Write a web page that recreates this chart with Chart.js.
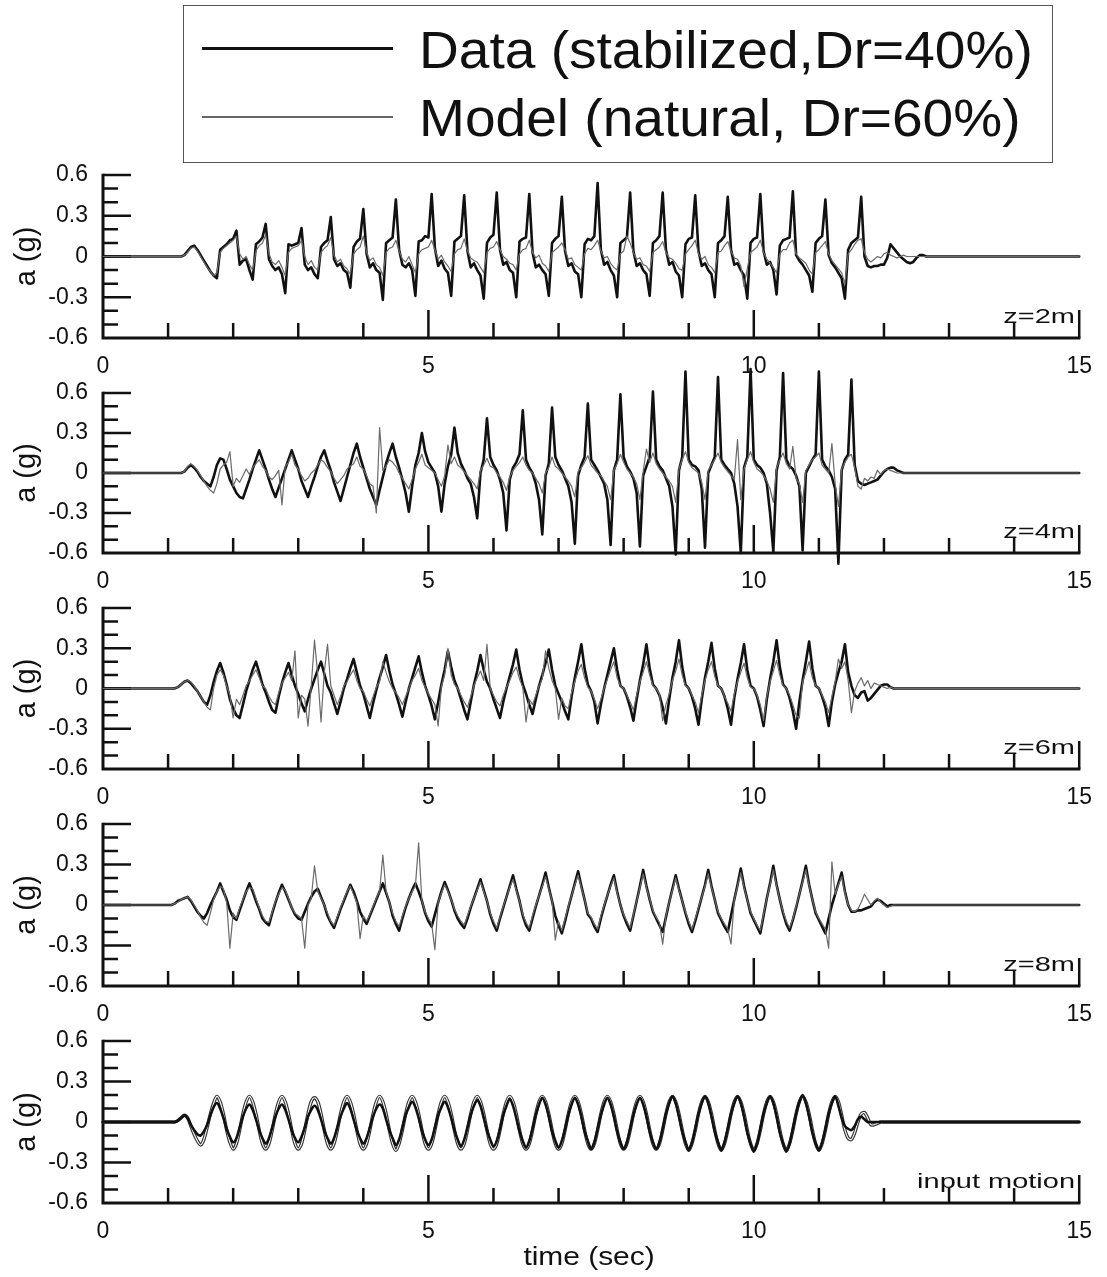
<!DOCTYPE html>
<html>
<head>
<meta charset="utf-8">
<title>Acceleration time histories</title>
<script src="https://cdn.jsdelivr.net/npm/chart.js@4.4.1/dist/chart.umd.min.js"></script>
<style>
  html, body { margin: 0; padding: 0; background: #fff; }
  #page { position: relative; width: 1107px; height: 1277px; overflow: hidden; background: #fff;
          font-family: "Liberation Sans", Arial, Helvetica, sans-serif; color: #111; }
  #page canvas { position: absolute; left: 0; }
  #legend { position: absolute; left: 183px; top: 5px; width: 870px; height: 158px;
            border: 1.5px solid #555; box-sizing: border-box; z-index: 2; }
  .lg-line { position: absolute; left: 17.5px; width: 191px; }
  .lg-text { position: absolute; left: 234.5px; font-size: 51px; line-height: 51px; white-space: nowrap;
             transform: scaleX(1.08); transform-origin: 0 50%; color: #111; }
</style>
</head>
<body>
<div id="page">
  <div id="legend">
    <div class="lg-line" style="top:41.3px;height:3px;background:#111;"></div>
    <div class="lg-text" id="lg-data" style="top:18.6px;"></div>
    <div class="lg-line" style="top:110px;height:1.5px;background:#666;"></div>
    <div class="lg-text" id="lg-model" style="top:87px;"></div>
  </div>
</div>
<script>
// ---- axis ticks and text ----
const xTickValues = [0, 5, 10, 15];
const xTickLabels = ['0', '5', '10', '15'];
const yTickValues = [-0.6, -0.3, 0, 0.3, 0.6];
const yTickLabels = ['-0.6', '-0.3', '0', '0.3', '0.6'];
const panelNames = ['z=2m', 'z=4m', 'z=6m', 'z=8m', 'input motion'];
const seriesNames = ['Data (stabilized,Dr=40%)', 'Model (natural, Dr=60%)'];
const yTitle = 'a (g)';
const xTitle = 'time (sec)';

// Records are sampled every 0.05 s from t = 1.0 s; before and after, the sensors are at rest.
const sampleStart = 1.0;
const sampleStep = 0.05;
const recordEnd = 15;

// ---- z = 2 m ----
const z2Data = [
  0,0,0,0,0,0.01,0.04,0.07,0.08,0.05,                 // 1.0 s
  0.01,-0.03,-0.07,-0.11,-0.14,-0.16,0.05,0.07,0.09,0.12,
  0.13,0.19,-0.06,-0.03,-0.02,-0.1,-0.17,0.09,0.11,0.14, // 2.0 s
  0.24,-0.02,-0.07,-0.1,-0.08,-0.13,-0.27,0.09,0.08,0.09,
  0.1,0.21,-0.06,-0.1,-0.08,-0.13,-0.16,0.07,0.1,0.12,   // 3.0 s
  0.29,-0.02,-0.07,-0.05,-0.1,-0.12,-0.23,0.07,0.11,0.13,
  0.35,0.02,-0.08,-0.05,-0.1,-0.12,-0.32,0.1,0.12,0.14,  // 4.0 s
  0.42,0.05,-0.06,-0.08,-0.05,-0.1,-0.29,0.11,0.12,0.15,
  0.14,0.46,0.06,-0.07,-0.03,-0.09,-0.12,-0.29,0.11,0.13, // 5.0 s
  0.15,0.45,0.04,-0.08,-0.05,-0.1,-0.14,-0.31,0.1,0.14,
  0.16,0.47,0.05,-0.06,-0.04,-0.1,-0.12,-0.3,0.11,0.13,  // 6.0 s
  0.14,0.46,0.03,-0.08,-0.06,-0.1,-0.13,-0.29,0.1,0.13,
  0.15,0.44,0.04,-0.07,-0.05,-0.11,-0.13,-0.3,0.09,0.13, // 7.0 s
  0.12,0.15,0.54,0.05,-0.06,-0.04,-0.1,-0.14,-0.3,0.1,
  0.12,0.14,0.47,0.04,-0.07,-0.05,-0.1,-0.13,-0.29,0.1,  // 8.0 s
  0.12,0.15,0.47,0.05,-0.06,-0.04,-0.11,-0.14,-0.3,0.09,
  0.13,0.14,0.45,0.04,-0.07,-0.05,-0.1,-0.13,-0.3,0.1,   // 9.0 s
  0.12,0.15,0.44,0.05,-0.06,-0.05,-0.1,-0.14,-0.31,0.1,
  0.13,0.14,0.46,0.04,-0.06,-0.04,-0.1,-0.28,0.08,0.12,  // 10.0 s
  0.13,0.14,0.48,0.01,-0.03,-0.06,-0.1,-0.14,-0.26,0.1,
  0.13,0.15,0.42,0.01,-0.05,-0.08,-0.12,-0.16,-0.31,0.05, // 11.0 s
  0.1,0.12,0.14,0.44,0,-0.07,-0.08,-0.07,-0.07,-0.06,
  -0.06,-0.01,0.09,0.06,0.03,0,-0.02,-0.04,-0.05,-0.04,  // 12.0 s
  -0.01,0.01,0.01,0,0,0,0,0,0,0
];
const z2Model = [
  0,0,0,0,0,0.01,0.03,0.06,0.07,0.04,                 // 1.0 s
  0,-0.04,-0.08,-0.11,-0.14,-0.12,0.03,0.06,0.08,0.1,
  0.12,0.15,0.02,-0.02,0,-0.06,-0.1,0.04,0.08,0.1,     // 2.0 s
  0.16,0.02,-0.04,-0.06,-0.03,-0.08,-0.14,0.03,0.06,0.07,
  0.08,0.12,0,-0.06,-0.03,-0.08,-0.1,0.03,0.06,0.08,   // 3.0 s
  0.14,0.01,-0.04,-0.02,-0.07,-0.09,-0.13,0.02,0.05,0.07,
  0.15,0.03,-0.03,-0.01,-0.06,-0.08,-0.14,0.03,0.06,0.07, // 4.0 s
  0.12,0.04,-0.02,-0.04,0,-0.06,-0.12,0.02,0.05,0.06,
  0.07,0.12,0.05,-0.02,0.01,-0.04,-0.07,-0.11,0.02,0.05, // 5.0 s
  0.06,0.13,0.04,-0.01,-0.03,-0.04,-0.08,-0.12,0.03,0.06,
  0.07,0.11,0.05,0,-0.02,-0.05,-0.06,-0.1,0.02,0.05,   // 6.0 s
  0.06,0.12,0.03,-0.01,0.01,-0.05,-0.07,-0.11,0.03,0.05,
  0.07,0.1,0.05,-0.02,-0.01,-0.06,-0.08,-0.1,0.02,0.06, // 7.0 s
  0.05,0.08,0.12,0.04,-0.01,0,-0.05,-0.08,-0.1,0.02,
  0.04,0.15,0.1,0.03,-0.02,-0.01,-0.06,-0.07,-0.11,0.03, // 8.0 s
  0.05,0.07,0.11,0.03,-0.01,-0.02,-0.05,-0.09,-0.1,0.02,
  0.05,0.08,0.12,0.02,-0.02,0,-0.06,-0.08,-0.12,0.03,  // 9.0 s
  0.04,0.08,0.11,0.04,-0.01,-0.02,-0.07,-0.22,-0.09,0.03,
  0.05,0.07,0.12,0.03,-0.02,-0.05,-0.08,-0.12,0.02,0.05, // 10.0 s
  0.05,0.1,0.12,0.02,-0.01,-0.03,-0.05,-0.1,-0.13,0.03,
  0.05,0.08,0.11,0.02,-0.03,-0.06,-0.09,-0.12,-0.2,0.02, // 11.0 s
  0.05,0.09,0.12,0.13,0.03,-0.02,-0.04,-0.02,0,-0.01,
  0.02,0.03,0.01,0,-0.01,0,0.01,0,0,0,                 // 12.0 s
  0,0,0,0,0,0,0,0,0,0
];

// ---- z = 4 m ----
const z4Data = [
  0,0,0,0,0,0.01,0.04,0.06,0.04,0.01,                  // 1.0 s
  -0.03,-0.06,-0.08,-0.1,-0.03,0.06,0.11,0.1,0.03,-0.05,
  -0.1,-0.15,-0.18,-0.19,-0.12,-0.05,0.03,0.1,0.17,0.1, // 2.0 s
  0.03,-0.05,-0.12,-0.18,-0.11,-0.04,0.03,0.1,0.17,0.1,
  0.03,-0.06,-0.12,-0.18,-0.1,-0.03,0.05,0.12,0.17,0.09, // 3.0 s
  0.02,-0.07,-0.14,-0.21,-0.12,-0.03,0.06,0.15,0.22,0.12,
  0.04,-0.04,-0.12,-0.18,-0.24,-0.13,-0.03,0.07,0.15,0.22, // 4.0 s
  0.12,0.04,-0.05,-0.15,-0.29,-0.1,0.06,0.15,0.3,0.16,
  0.08,0.04,0,-0.1,-0.29,-0.08,0.05,0.14,0.34,0.15,     // 5.0 s
  0.07,0.02,-0.04,-0.08,-0.18,-0.34,0,0.1,0.41,0.12,
  0.06,0.02,-0.05,-0.15,-0.43,-0.05,0.04,0.08,0.14,0.47, // 6.0 s
  0.1,0.04,0,-0.08,-0.2,-0.46,-0.02,0.07,0.49,0.12,
  0.06,0.02,-0.04,-0.1,-0.22,-0.53,-0.02,0.06,0.12,0.52, // 7.0 s
  0.1,0.06,0.02,-0.03,-0.08,-0.2,-0.54,0.02,0.1,0.59,
  0.12,0.05,0.01,-0.04,-0.15,-0.55,-0.02,0.05,0.12,0.61, // 8.0 s
  0.1,0.05,0.02,-0.04,-0.1,-0.25,-0.61,0.02,0.12,0.76,
  0.1,0.06,0.05,0.02,-0.12,-0.56,0,0.06,0.12,0.72,      // 9.0 s
  0.1,0.06,0.03,0,-0.08,-0.25,-0.6,0.04,0.12,0.78,
  0.1,0.06,0.04,0,-0.08,-0.3,-0.59,0.02,0.12,0.75,      // 10.0 s
  0.1,0.05,0.03,-0.02,-0.1,-0.58,0,0.05,0.1,0.14,
  0.76,0.1,0.05,0.02,-0.03,-0.12,-0.68,0.02,0.1,0.14,   // 11.0 s
  0.7,0.06,-0.06,-0.08,-0.09,-0.08,-0.07,-0.06,-0.05,-0.02,
  0.01,0.03,0.04,0.04,0.02,0.01,0,0,0,0,               // 12.0 s
  0,0,0,0,0,0,0,0,0,0
];
const z4Model = [
  0,0,0,0,0,0.01,0.05,0.07,0.05,0.02,                  // 1.0 s
  -0.02,-0.06,-0.1,-0.13,-0.15,-0.08,0.03,0.06,0.08,0.16,
  -0.1,-0.04,-0.07,-0.02,0.03,-0.01,0.04,0.07,0.1,0.05, // 2.0 s
  0.02,-0.03,-0.05,-0.02,0.02,-0.24,0.05,0.08,0.14,0.06,
  0.03,-0.02,-0.06,-0.04,0,0.02,0.06,0.1,0.08,0.04,    // 3.0 s
  0.01,-0.04,-0.08,-0.05,-0.02,0.03,0.05,0.07,0.12,0.05,
  0.03,-0.02,-0.08,-0.1,-0.3,0.34,0.02,0.05,0.1,0.08,  // 4.0 s
  0.05,0,-0.04,-0.08,-0.12,-0.05,0.03,0.08,0.14,0.06,
  0.04,0.02,0,-0.05,-0.1,-0.02,0.21,0.07,0.12,0.06,    // 5.0 s
  0.04,0.01,-0.02,-0.05,-0.08,-0.12,0.02,0.06,0.11,0.05,
  0.04,0,-0.03,-0.07,-0.13,-0.03,0.02,0.05,0.08,0.12,  // 6.0 s
  0.06,0.02,0,-0.04,-0.08,-0.15,0,0.04,0.12,0.05,
  0.03,0,-0.03,-0.06,-0.1,-0.18,0.01,0.04,0.08,0.13,   // 7.0 s
  0.06,0.03,0,-0.02,-0.06,-0.1,-0.2,0.02,0.07,0.14,
  0.08,0.03,0,-0.03,-0.08,-0.2,0.01,0.18,0.08,0.15,    // 8.0 s
  0.07,0.03,0,-0.03,-0.06,-0.1,-0.22,0.03,0.1,0.16,
  0.08,0.04,0.02,0,-0.07,-0.2,0.02,0.06,0.1,0.15,      // 9.0 s
  0.08,0.04,0.01,-0.02,-0.05,0.25,-0.2,0.03,0.1,0.16,
  0.08,0.03,0.01,-0.02,-0.06,-0.12,-0.22,0.04,0.1,0.15, // 10.0 s
  0.07,0.03,0.2,-0.04,-0.08,-0.22,0.02,0.06,0.1,0.12,
  0.15,0.06,0.03,0,0.22,-0.08,-0.25,0.03,0.08,0.12,    // 11.0 s
  0.14,0.04,-0.1,-0.12,-0.04,-0.06,-0.03,-0.04,0.02,-0.01,
  0.02,0.03,0.02,0.01,0,0,0,0,0,0,                     // 12.0 s
  0,0,0,0,0,0,0,0,0,0
];

// ---- z = 6 m ----
const z6Data = [
  0,0,0,0.01,0.03,0.05,0.06,0.04,0.01,-0.02,           // 1.0 s
  -0.06,-0.1,-0.12,-0.05,0.05,0.13,0.19,0.12,0.03,-0.08,
  -0.15,-0.2,-0.22,-0.12,-0.02,0.06,0.14,0.2,0.12,0.03, // 2.0 s
  -0.03,-0.1,-0.16,-0.18,-0.06,0.04,0.12,0.19,0.1,0.02,
  -0.04,-0.11,-0.17,-0.08,0,0.07,0.14,0.2,0.11,0.02,   // 3.0 s
  -0.03,-0.11,-0.19,-0.1,0,0.07,0.15,0.22,0.12,0.02,
  -0.04,-0.13,-0.22,-0.11,-0.01,0.08,0.16,0.25,0.13,0.03, // 4.0 s
  -0.04,-0.12,-0.21,-0.1,0,0.08,0.16,0.24,0.12,0.02,
  -0.05,-0.13,-0.23,-0.1,0.03,0.14,0.28,0.16,0.06,0,   // 5.0 s
  -0.08,-0.16,-0.23,-0.1,0.03,0.13,0.25,0.14,0.05,0,
  -0.08,-0.15,-0.22,-0.1,0,0.09,0.18,0.29,0.14,0.03,   // 6.0 s
  -0.04,-0.12,-0.19,-0.08,0.02,0.1,0.19,0.29,0.14,0.02,
  -0.04,-0.1,-0.17,-0.23,-0.06,0.08,0.2,0.33,0.15,0.03, // 7.0 s
  -0.02,-0.1,-0.26,-0.12,0,0.1,0.2,0.3,0.14,0.02,
  0,-0.06,-0.14,-0.24,-0.08,0.06,0.18,0.33,0.15,0.03,  // 8.0 s
  0,-0.05,-0.14,-0.26,-0.08,0.08,0.2,0.36,0.16,0.03,
  0,-0.06,-0.15,-0.27,-0.08,0.08,0.2,0.34,0.15,0.02,   // 9.0 s
  0,-0.06,-0.15,-0.27,-0.07,0.07,0.19,0.33,0.14,0.02,
  0,-0.06,-0.16,-0.28,-0.08,0.07,0.2,0.36,0.16,0.03,   // 10.0 s
  0,-0.07,-0.17,-0.3,-0.1,0.06,0.2,0.35,0.15,0.02,
  0,-0.06,-0.14,-0.28,-0.1,0.03,0.12,0.2,0.33,0.12,    // 11.0 s
  0.02,-0.05,-0.07,-0.03,-0.02,-0.09,-0.07,-0.04,-0.01,0.02,
  0.03,0.03,0.01,0,0,0,0,0,0,0,                        // 12.0 s
  0,0,0,0,0,0,0,0,0,0
];
const z6Model = [
  0,0,0,0.01,0.03,0.05,0.06,0.05,0.02,-0.02,           // 1.0 s
  -0.06,-0.1,-0.14,-0.16,0,0.1,0.14,0.1,0.02,-0.05,
  -0.22,-0.08,-0.12,-0.05,0.02,0.06,0.1,0.14,0.08,0.02, // 2.0 s
  0,-0.06,-0.1,-0.12,-0.03,0.04,0.08,0.12,0.06,0.28,
  -0.22,-0.05,-0.08,-0.28,0.02,0.36,0.1,-0.25,0.12,0.33, // 3.0 s
  0.02,-0.05,-0.12,-0.06,0.02,0.05,0.1,0.14,0.06,0,
  -0.02,-0.08,-0.13,-0.06,0.01,0.05,0.2,0.12,0.05,0,   // 4.0 s
  -0.03,-0.07,-0.12,-0.06,0,0.06,0.1,0.15,0.06,0.01,
  -0.04,-0.08,-0.12,-0.28,0.02,0.1,0.3,0.1,0.03,0,     // 5.0 s
  -0.05,-0.1,-0.14,-0.06,0.02,0.08,0.13,0.06,0.33,0,
  -0.05,-0.1,-0.13,-0.05,0.01,0.06,0.12,0.16,0.07,0.01, // 6.0 s
  -0.25,-0.08,-0.12,-0.05,0.02,0.07,0.28,0.15,0.06,0,
  -0.23,-0.07,-0.13,-0.15,-0.03,0.05,0.13,0.18,0.08,0.01, // 7.0 s
  -0.02,-0.08,-0.15,-0.08,0,0.07,0.14,0.2,0.08,0.02,
  0,-0.05,-0.1,-0.16,-0.05,0.05,0.12,0.2,0.1,0.02,     // 8.0 s
  0,-0.04,-0.24,-0.12,-0.04,0.06,0.13,0.22,0.1,0.02,
  0,-0.05,-0.1,-0.18,-0.05,0.06,0.14,0.2,0.09,0.02,    // 9.0 s
  0,-0.06,-0.11,-0.17,-0.04,0.05,0.12,0.19,0.08,0.01,
  0,-0.05,-0.12,-0.24,-0.06,0.05,0.13,0.21,0.1,0.02,   // 10.0 s
  0,-0.05,-0.12,-0.2,-0.22,0.05,0.12,0.2,0.08,0.02,
  0,-0.05,-0.1,-0.18,-0.06,0.05,0.22,0.15,0.2,0.06,    // 11.0 s
  -0.18,-0.02,0.04,0.08,0.02,0.06,0,0.04,0.03,0.02,
  0.01,0,0.01,0,0,0,0,0,0,0,                           // 12.0 s
  0,0,0,0,0,0,0,0,0,0
];

// ---- z = 8 m ----
const z8Data = [
  0,0,0.01,0.03,0.04,0.05,0.06,0.03,-0.01,-0.05,       // 1.0 s
  -0.08,-0.1,-0.06,0,0.05,0.1,0.16,0.1,0.04,-0.04,
  -0.09,-0.11,-0.04,0.03,0.1,0.16,0.1,0.03,-0.03,-0.1, // 2.0 s
  -0.13,-0.15,-0.06,0.02,0.09,0.15,0.1,0.04,-0.02,-0.07,
  -0.1,-0.11,-0.05,0.01,0.06,0.1,0.12,0.06,0,-0.08,    // 3.0 s
  -0.13,-0.17,-0.1,-0.03,0.03,0.09,0.15,0.1,0.03,-0.05,
  -0.1,-0.14,-0.08,-0.02,0.04,0.1,0.16,0.09,0.02,-0.08, // 4.0 s
  -0.14,-0.19,-0.1,-0.02,0.05,0.11,0.16,0.1,0.03,-0.06,
  -0.12,-0.16,-0.07,0.02,0.1,0.17,0.11,0.04,-0.04,-0.1, // 5.0 s
  -0.14,-0.17,-0.1,-0.02,0.05,0.12,0.19,0.11,0.03,-0.07,
  -0.14,-0.19,-0.1,-0.02,0.06,0.14,0.22,0.12,0.03,-0.08, // 6.0 s
  -0.15,-0.19,-0.1,-0.01,0.07,0.15,0.24,0.13,0.03,-0.08,
  -0.15,-0.21,-0.12,-0.02,0.07,0.16,0.25,0.14,0.04,-0.07, // 7.0 s
  -0.1,-0.16,-0.2,-0.1,-0.01,0.07,0.15,0.22,0.1,0,
  -0.08,-0.14,-0.19,-0.08,0.03,0.14,0.26,0.14,0.04,-0.05, // 8.0 s
  -0.1,-0.15,-0.2,-0.09,0.02,0.12,0.22,0.12,0.03,-0.06,
  -0.14,-0.2,-0.12,-0.03,0.06,0.15,0.26,0.14,0.04,-0.06, // 9.0 s
  -0.11,-0.16,-0.2,-0.08,0.04,0.15,0.27,0.14,0.04,-0.06,
  -0.11,-0.16,-0.21,-0.08,0.05,0.16,0.29,0.15,0.04,-0.06, // 10.0 s
  -0.14,-0.19,-0.11,-0.02,0.08,0.18,0.29,0.15,0.04,-0.06,
  -0.11,-0.16,-0.21,-0.1,0,0.08,0.16,0.24,0.1,0,       // 11.0 s
  -0.05,-0.05,-0.04,-0.04,-0.03,-0.02,-0.01,0.02,0.04,0.03,
  0.01,-0.01,0,0,0,0,0,0,0,0,                          // 12.0 s
  0,0,0,0,0,0,0,0,0,0
];
const z8Model = [
  0,0,0.01,0.02,0.04,0.05,0.06,0.04,0,-0.04,           // 1.0 s
  -0.09,-0.13,-0.15,-0.06,0.04,0.1,0.14,0.12,0.02,-0.32,
  -0.06,-0.1,-0.02,0.04,0.1,0.13,0.12,0.05,-0.02,-0.08, // 2.0 s
  -0.12,-0.13,-0.05,0.03,0.08,0.13,0.11,0.05,-0.02,-0.06,
  -0.08,-0.1,-0.32,0,0.05,0.29,0.1,0.05,0,-0.06,       // 3.0 s
  -0.12,-0.15,-0.09,-0.02,0.04,0.1,0.14,0.08,0.02,-0.25,
  -0.08,-0.12,-0.07,-0.01,0.05,0.1,0.37,0.1,0.02,-0.06, // 4.0 s
  -0.12,-0.16,-0.08,-0.01,0.05,0.1,0.14,0.46,0.03,-0.05,
  -0.1,-0.14,-0.33,0.02,0.09,0.15,0.1,0.04,-0.03,-0.08, // 5.0 s
  -0.12,-0.15,-0.08,-0.01,0.05,0.11,0.17,0.1,0.03,-0.06,
  -0.12,-0.17,-0.09,-0.01,0.06,0.13,0.19,0.11,0.03,-0.07, // 6.0 s
  -0.13,-0.17,-0.08,0,0.07,0.14,0.21,0.12,0.03,-0.26,
  -0.12,-0.19,-0.1,-0.01,0.07,0.15,0.22,0.13,0.04,-0.06, // 7.0 s
  -0.09,-0.14,-0.18,-0.08,0,0.07,0.14,0.2,0.09,0,
  -0.07,-0.12,-0.17,-0.07,0.03,0.13,0.23,0.13,0.04,-0.04, // 8.0 s
  -0.09,-0.13,-0.29,-0.08,0.02,0.11,0.2,0.11,0.03,-0.05,
  -0.12,-0.18,-0.1,-0.02,0.06,0.14,0.23,0.13,0.04,-0.05, // 9.0 s
  -0.1,-0.14,-0.18,-0.29,0.04,0.14,0.24,0.13,0.04,-0.05,
  -0.1,-0.15,-0.19,-0.07,0.05,0.15,0.26,0.14,0.04,-0.05, // 10.0 s
  -0.12,-0.17,-0.1,-0.01,0.08,0.17,0.26,0.14,0.04,-0.05,
  -0.1,-0.14,-0.18,-0.32,0.32,0.08,0.15,0.21,0.09,0,   // 11.0 s
  -0.04,-0.05,-0.03,0.02,0.08,0.04,0,0.03,0.05,0.02,
  0,-0.02,-0.01,0,0,0,0,0,0,0,                         // 12.0 s
  0,0,0,0,0,0,0,0,0,0
];

// ---- input motion ----
const inputData = [
  0,0,0,0.01,0.03,0.05,0.03,-0.02,-0.06,-0.09,         // 1.0 s
  -0.1,-0.07,-0.02,0.05,0.11,0.14,0.1,0.03,-0.05,-0.11,
  -0.15,-0.12,-0.04,0.04,0.1,0.13,0.09,0.02,-0.06,-0.12, // 2.0 s
  -0.16,-0.12,-0.04,0.04,0.1,0.13,0.09,0.02,-0.06,-0.12,
  -0.15,-0.11,-0.04,0.04,0.09,0.12,0.09,0.02,-0.06,-0.12, // 3.0 s
  -0.16,-0.12,-0.04,0.04,0.1,0.14,0.1,0.02,-0.06,-0.12,
  -0.16,-0.12,-0.04,0.04,0.1,0.13,0.1,0.02,-0.06,-0.12, // 4.0 s
  -0.17,-0.13,-0.04,0.05,0.11,0.15,0.11,0.03,-0.06,-0.13,
  -0.17,-0.13,-0.04,0.05,0.11,0.15,0.11,0.03,-0.06,-0.13, // 5.0 s
  -0.18,-0.13,-0.04,0.05,0.12,0.16,0.12,0.03,-0.06,-0.13,
  -0.18,-0.14,-0.05,0.05,0.12,0.17,0.12,0.03,-0.07,-0.14, // 6.0 s
  -0.19,-0.14,-0.05,0.05,0.13,0.18,0.13,0.04,-0.07,-0.14,
  -0.19,-0.14,-0.05,0.05,0.13,0.18,0.13,0.04,-0.07,-0.14, // 7.0 s
  -0.2,-0.15,-0.05,0.05,0.13,0.18,0.13,0.04,-0.07,-0.15,
  -0.2,-0.15,-0.05,0.05,0.13,0.18,0.13,0.04,-0.07,-0.15, // 8.0 s
  -0.2,-0.15,-0.05,0.06,0.14,0.19,0.14,0.04,-0.07,-0.15,
  -0.21,-0.15,-0.05,0.06,0.14,0.19,0.14,0.04,-0.07,-0.15, // 9.0 s
  -0.21,-0.15,-0.05,0.06,0.14,0.19,0.14,0.04,-0.08,-0.16,
  -0.22,-0.16,-0.05,0.06,0.14,0.19,0.14,0.04,-0.08,-0.16, // 10.0 s
  -0.22,-0.16,-0.05,0.06,0.15,0.2,0.14,0.04,-0.08,-0.16,
  -0.21,-0.15,-0.05,0.06,0.14,0.19,0.12,0.03,-0.03,-0.05, // 11.0 s
  -0.06,-0.03,0.02,0.04,0.02,0,0,0,0,0,
  0,0,0,0,0,0,0,0,0,0,                                 // 12.0 s
  0,0,0,0,0,0,0,0,0,0
];
const inputModel = [
  0,0,0,0.01,0.03,0.05,0.03,-0.03,-0.09,-0.14,         // 1.0 s
  -0.17,-0.13,-0.04,0.06,0.14,0.19,0.15,0.06,-0.06,-0.15,
  -0.2,-0.16,-0.06,0.06,0.15,0.19,0.15,0.06,-0.06,-0.16, // 2.0 s
  -0.2,-0.16,-0.06,0.06,0.15,0.19,0.15,0.06,-0.06,-0.16,
  -0.2,-0.16,-0.06,0.06,0.15,0.18,0.15,0.06,-0.06,-0.16, // 3.0 s
  -0.2,-0.16,-0.06,0.06,0.15,0.19,0.15,0.06,-0.06,-0.16,
  -0.2,-0.16,-0.06,0.06,0.15,0.19,0.15,0.06,-0.06,-0.16, // 4.0 s
  -0.21,-0.16,-0.06,0.06,0.15,0.19,0.15,0.06,-0.06,-0.16,
  -0.2,-0.16,-0.06,0.06,0.15,0.19,0.15,0.06,-0.06,-0.16, // 5.0 s
  -0.2,-0.16,-0.06,0.06,0.15,0.19,0.15,0.06,-0.06,-0.16,
  -0.2,-0.16,-0.06,0.06,0.15,0.19,0.15,0.06,-0.06,-0.16, // 6.0 s
  -0.2,-0.16,-0.06,0.06,0.15,0.19,0.15,0.06,-0.06,-0.16,
  -0.2,-0.16,-0.06,0.06,0.15,0.19,0.15,0.06,-0.06,-0.16, // 7.0 s
  -0.2,-0.16,-0.06,0.06,0.15,0.19,0.15,0.06,-0.06,-0.16,
  -0.2,-0.16,-0.06,0.06,0.15,0.19,0.15,0.06,-0.06,-0.16, // 8.0 s
  -0.2,-0.16,-0.06,0.06,0.15,0.19,0.15,0.06,-0.06,-0.16,
  -0.21,-0.16,-0.06,0.06,0.15,0.19,0.15,0.06,-0.06,-0.16, // 9.0 s
  -0.21,-0.16,-0.06,0.06,0.15,0.19,0.15,0.06,-0.06,-0.16,
  -0.21,-0.16,-0.06,0.06,0.15,0.19,0.15,0.06,-0.06,-0.16, // 10.0 s
  -0.21,-0.16,-0.06,0.06,0.15,0.19,0.15,0.06,-0.06,-0.16,
  -0.21,-0.16,-0.06,0.06,0.15,0.19,0.15,0.05,-0.06,-0.12, // 11.0 s
  -0.13,-0.08,0,0.06,0.07,0.03,-0.02,-0.02,-0.01,0,
  0,0,0,0,0,0,0,0,0,0,                                 // 12.0 s
  0,0,0,0,0,0,0,0,0,0
];

// ---- page layout: plot-area top and height of each panel (px) ----
const panelLayout = [
  { top: 175, height: 163 },
  { top: 393, height: 160 },
  { top: 608, height: 161 },
  { top: 824, height: 162 },
  { top: 1041, height: 162 }
];
const panels = [
  { data: z2Data, model: z2Model, name: panelNames[0] },
  { data: z4Data, model: z4Model, name: panelNames[1] },
  { data: z6Data, model: z6Model, name: panelNames[2] },
  { data: z8Data, model: z8Model, name: panelNames[3] },
  { data: inputData, model: inputModel, name: panelNames[4], hollowModel: true, xTitle: xTitle }
];

const FONT = '"Liberation Sans", Arial, Helvetica, sans-serif';
const INK = '#111';
const PAD_TOP = 40;

document.getElementById('lg-data').textContent = seriesNames[0];
document.getElementById('lg-model').textContent = seriesNames[1];

// Samples -> {x, y} points, with the rest periods at both ends of the record.
function toPoints(values) {
  const pts = [{ x: 0, y: 0 }];
  values.forEach((v, i) => pts.push({ x: +(sampleStart + i * sampleStep).toFixed(2), y: v }));
  pts.push({ x: recordEnd, y: 0 });
  return pts;
}

// Text drawn with a horizontal stretch (the captions use a wide face).
function stretchedText(ctx, text, x, y, size, sx, align) {
  ctx.save();
  ctx.font = size + 'px ' + FONT;
  ctx.fillStyle = INK;
  ctx.textBaseline = 'alphabetic';
  ctx.textAlign = 'left';
  const w = ctx.measureText(text).width * sx;
  const left = align === 'right' ? x - w : align === 'center' ? x - w / 2 : x;
  ctx.translate(left, y);
  ctx.scale(sx, 1);
  ctx.fillText(text, 0, 0);
  ctx.restore();
}

// Axis frame: heavy left/bottom spines with inward major and minor ticks, plus captions.
const axesFrame = {
  id: 'axesFrame',
  beforeDatasetsDraw(chart) {
    const { ctx, scales: { x, y } } = chart;
    const x0 = x.getPixelForValue(0), xEnd = x.getPixelForValue(15);
    const yTop = y.getPixelForValue(0.6), yBot = y.getPixelForValue(-0.6);
    ctx.save();
    ctx.strokeStyle = INK;
    ctx.lineCap = 'butt';
    ctx.lineWidth = 3;
    ctx.beginPath();
    ctx.moveTo(x0, yTop - 1.2); ctx.lineTo(x0, yBot + 1.5);
    ctx.moveTo(x0 - 1.5, yBot); ctx.lineTo(xEnd + 1.2, yBot);
    ctx.stroke();
    ctx.lineWidth = 2.5;
    ctx.beginPath();
    for (let k = -5; k <= 6; k++) {           // every 0.1 g; long ticks on labelled values
      const py = y.getPixelForValue(k / 10);
      const len = k % 3 === 0 ? 28 : 15;
      ctx.moveTo(x0, py); ctx.lineTo(x0 + len, py);
    }
    for (let s = 1; s <= 15; s++) {           // every second; long ticks on labelled values
      const px = x.getPixelForValue(s);
      const len = s % 5 === 0 ? 28 : 15;
      ctx.moveTo(px, yBot); ctx.lineTo(px, yBot - len);
    }
    ctx.stroke();
    ctx.restore();
  },
  afterDraw(chart, args, opts) {
    const { ctx, scales: { y } } = chart;
    const yBot = y.getPixelForValue(-0.6);
    if (opts.caption) stretchedText(ctx, opts.caption, 1075, yBot - 15, 21, 1.38, 'right');
    if (opts.xTitle) stretchedText(ctx, opts.xTitle, 589, yBot + 62, 26, 1.15, 'center');
  }
};

function datasetsFor(p) {
  const base = { pointRadius: 0, pointHoverRadius: 0, clip: false, fill: false,
                 borderJoinStyle: 'round', borderCapStyle: 'round',
                 tension: p.hollowModel ? 0.3 : 0 };
  if (p.hollowModel) {
    return [
      Object.assign({}, base, { label: seriesNames[0], data: toPoints(p.data), borderColor: INK, borderWidth: 2.6, order: 0 }),
      Object.assign({}, base, { label: seriesNames[1], data: toPoints(p.model), borderColor: '#fff', borderWidth: 1.1, order: 1 }),
      Object.assign({}, base, { label: seriesNames[1], data: toPoints(p.model), borderColor: '#333', borderWidth: 3.4, order: 2 })
    ];
  }
  return [
    Object.assign({}, base, { label: seriesNames[0], data: toPoints(p.data), borderColor: INK, borderWidth: 2.6, order: 1 }),
    Object.assign({}, base, { label: seriesNames[1], data: toPoints(p.model), borderColor: '#6a6a6a', borderWidth: 1.2, order: 0 })
  ];
}

const page = document.getElementById('page');
panels.forEach((p, i) => {
  const lay = panelLayout[i];
  const bottomRoom = p.xTitle ? 76 : 50;
  const h = PAD_TOP + lay.height + bottomRoom;
  const canvas = document.createElement('canvas');
  canvas.width = 1107;
  canvas.height = h;
  canvas.style.top = (lay.top - PAD_TOP) + 'px';
  canvas.style.width = '1107px';
  canvas.style.height = h + 'px';
  page.insertBefore(canvas, page.firstChild);

  new Chart(canvas, {
    type: 'line',
    data: { datasets: datasetsFor(p) },
    options: {
      responsive: false,
      animation: false,
      devicePixelRatio: 1,
      events: [],
      layout: { padding: { left: 0, right: 20, top: PAD_TOP, bottom: 0 } },
      plugins: {
        legend: { display: false },
        tooltip: { enabled: false },
        axesFrame: { caption: p.name, xTitle: p.xTitle || null }
      },
      scales: {
        x: {
          type: 'linear', min: 0, max: 15,
          afterBuildTicks: s => { s.ticks = xTickValues.map(v => ({ value: v })); },
          afterFit: s => { s.height = bottomRoom; },
          grid: { display: false, drawTicks: false },
          border: { display: false },
          ticks: { autoSkip: false, maxRotation: 0, padding: 15, color: INK,
                   font: { family: FONT, size: 23 },
                   callback: (v, k) => xTickLabels[k] }
        },
        y: {
          type: 'linear', min: -0.6, max: 0.6,
          afterBuildTicks: s => { s.ticks = yTickValues.map(v => ({ value: v })); },
          afterFit: s => { s.width = 103; },
          grid: { display: false, drawTicks: false },
          border: { display: false },
          ticks: { autoSkip: false, padding: 15, color: INK,
                   font: { family: FONT, size: 23 },
                   callback: (v, k) => yTickLabels[k] },
          title: { display: true, text: yTitle, color: INK,
                   font: { family: FONT, size: 29 }, padding: { top: 10, bottom: 0 } }
        }
      }
    },
    plugins: [axesFrame]
  });
});
</script>
</body>
</html>
